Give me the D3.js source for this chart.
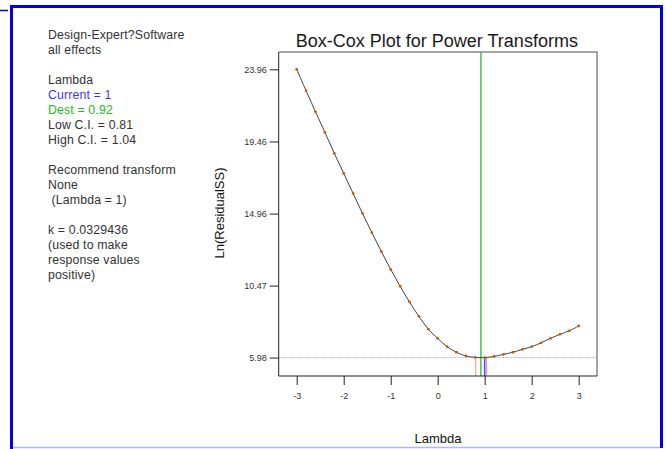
<!DOCTYPE html>
<html>
<head>
<meta charset="utf-8">
<script src="https://cdn.jsdelivr.net/npm/d3@7"></script>
<style>
  body { margin: 0; background: #fff; }
  svg { display: block; font-family: "Liberation Sans", Arial, sans-serif; }
</style>
</head>
<body>
<svg id="plot" width="666" height="449"></svg>
<script>
// Box-Cox data: lambda vs Ln(ResidualSS)
const lambdas = [-3, -2.8, -2.6, -2.4, -2.2, -2, -1.8, -1.6, -1.4, -1.2, -1, -0.8, -0.6, -0.4, -0.2,
                 0, 0.2, 0.4, 0.6, 0.8, 1, 1.2, 1.4, 1.6, 1.8, 2, 2.2, 2.4, 2.6, 2.8, 3];
const lnRSS = [23.96, 22.62, 21.31, 20.03, 18.72, 17.47, 16.22, 14.97, 13.77, 12.60, 11.48, 10.43, 9.45, 8.55, 7.75,
               7.18, 6.66, 6.31, 6.08, 5.99, 5.98, 6.05, 6.18, 6.31, 6.49, 6.66, 6.90, 7.18, 7.43, 7.65, 7.95];
const xTicks = [-3, -2, -1, 0, 1, 2, 3];
const yTicks = [5.98, 10.47, 14.96, 19.46, 23.96];
const current = 1, best = 0.92, lowCI = 0.81, highCI = 1.04, threshold = 5.98;

const infoLines = [
  ["Design-Expert?Software", "#333"], ["all effects", "#333"], ["", ""],
  ["Lambda", "#333"], ["Current = 1", "#3a3aff"], ["Dest = 0.92", "#22bb22"],
  ["Low C.I. = 0.81", "#333"], ["High C.I. = 1.04", "#333"], ["", ""],
  ["Recommend transform", "#333"], ["None", "#333"], [" (Lambda = 1)", "#333"], ["", ""],
  ["k = 0.0329436", "#333"], ["(used to make", "#333"], ["response values", "#333"], ["positive)", "#333"]
];

const svg = d3.select("#plot");

// blue window frame
svg.append("line").attr("x1", 0).attr("x2", 8).attr("y1", 10.5).attr("y2", 10.5)
    .attr("stroke", "#0000ee").attr("stroke-width", 1.5);
svg.append("line").attr("x1", 11.5).attr("x2", 11.5).attr("y1", 5).attr("y2", 449)
    .attr("stroke", "#0000ee").attr("stroke-width", 3);
svg.append("line").attr("x1", 10).attr("x2", 663).attr("y1", 6.5).attr("y2", 6.5)
    .attr("stroke", "#0000ee").attr("stroke-width", 3);
svg.append("line").attr("x1", 661.5).attr("x2", 661.5).attr("y1", 5).attr("y2", 448)
    .attr("stroke", "#0000ee").attr("stroke-width", 3);
svg.append("line").attr("x1", 13).attr("x2", 660).attr("y1", 447.5).attr("y2", 447.5)
    .attr("stroke", "#b4b4ff").attr("stroke-width", 1.5);

// info text
svg.append("g").selectAll("text")
    .data(infoLines)
  .enter().append("text")
    .attr("x", 48)
    .attr("y", (d, i) => 39.3 + i * 14.95)
    .attr("font-size", "12.3px")
    .attr("letter-spacing", "0.15px")
    .attr("fill", d => d[1])
    .style("white-space", "pre")
    .text(d => d[0]);

// plot area
const pLeft = 278.7, pRight = 597, pTop = 52, pBottom = 376;
const x = d3.scaleLinear().domain([-3.383, 3.39]).range([pLeft, pRight]);
const y = d3.scaleLinear().domain([4.83, 25.04]).range([pBottom, pTop]);

// title
svg.append("text")
    .attr("x", (pLeft + pRight) / 2 - 1)
    .attr("y", 46.5)
    .attr("text-anchor", "middle")
    .attr("font-size", "18px")
    .attr("fill", "#1a1a1a")
    .text("Box-Cox Plot for Power Transforms");

// threshold line
svg.append("line")
    .attr("x1", pLeft).attr("x2", pRight)
    .attr("y1", y(threshold)).attr("y2", y(threshold))
    .attr("stroke", "#aaa").attr("stroke-dasharray", "1,1");

// CI lines
[[lowCI, "#ff8c8c"], [highCI, "#ff8c8c"], [current, "#4646ff"]].forEach(d => {
  svg.append("line")
      .attr("x1", x(d[0])).attr("x2", x(d[0]))
      .attr("y1", y(threshold)).attr("y2", pBottom)
      .attr("stroke", d[1]).attr("stroke-width", d[0] === current ? 1.5 : 1);
});
svg.append("line")
    .attr("x1", x(best)).attr("x2", x(best))
    .attr("y1", pTop).attr("y2", pBottom)
    .attr("stroke", "#1fae1f").attr("stroke-width", 1.2);

// the curve
const pts = lambdas.map((l, i) => [l, lnRSS[i]]);
svg.append("path")
    .datum(pts)
    .attr("fill", "none")
    .attr("stroke", "#444")
    .attr("stroke-width", 1)
    .attr("d", d3.line().x(d => x(d[0])).y(d => y(d[1])).curve(d3.curveCatmullRom));

svg.append("g").selectAll("circle")
    .data(pts)
  .enter().append("circle")
    .attr("cx", d => x(d[0]))
    .attr("cy", d => y(d[1]))
    .attr("r", 1.4)
    .attr("fill", "#cc5a00");

// box frame
svg.append("path")
    .attr("d", `M${pLeft},${pTop}H${pRight}V${pBottom}`)
    .attr("fill", "none").attr("stroke", "#888").attr("stroke-width", 1.5);
svg.append("path")
    .attr("d", `M${pLeft},${pTop}V${pBottom}H${pRight}`)
    .attr("fill", "none").attr("stroke", "#222").attr("stroke-width", 1);

// axes
const xAxis = svg.append("g")
    .attr("transform", `translate(0,${pBottom})`)
    .call(d3.axisBottom(x).tickValues(xTicks).tickSize(9).tickSizeOuter(0).tickPadding(8).tickFormat(d => String(d)));
const yAxis = svg.append("g")
    .attr("transform", `translate(${pLeft},0)`)
    .call(d3.axisLeft(y).tickValues(yTicks).tickSize(9).tickSizeOuter(0).tickPadding(3).tickFormat(d3.format(".2f")));
[xAxis, yAxis].forEach(a => {
  a.select(".domain").remove();
  a.selectAll("line").attr("stroke", "#222");
  a.selectAll("text").attr("font-size", "9px").attr("fill", "#333")
      .attr("font-family", "'Liberation Sans', Arial, sans-serif");
});

// axis titles
svg.append("text")
    .attr("x", 438).attr("y", 442.5)
    .attr("text-anchor", "middle")
    .attr("font-size", "13px").attr("fill", "#111")
    .text("Lambda");
svg.append("text")
    .attr("transform", "translate(224,213) rotate(-90)")
    .attr("text-anchor", "middle")
    .attr("font-size", "13px").attr("fill", "#111")
    .text("Ln(ResidualSS)");
</script>
</body>
</html>
